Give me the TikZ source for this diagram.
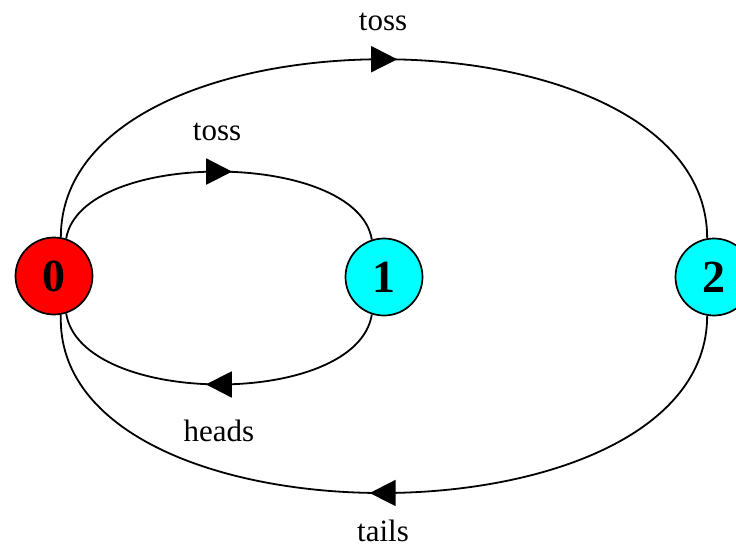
\documentclass[tikz,border=0pt]{standalone}
\usepackage{fontspec}
\setmainfont{Liberation Serif}
\usetikzlibrary{arrows.meta,decorations.markings}
\tikzset{
  state/.style={
    circle,draw=black,line width=1.7pt,inner sep=0pt,
    minimum size=77pt,font=\fontsize{46}{46}\selectfont\bfseries
  },
  state red/.style={state,fill={rgb,255:red,255;green,0;blue,0}},
  state cyan/.style={state,fill={rgb,255:red,0;green,255;blue,255}},
  edge/.style={
    line width=1.8pt,
    decoration={markings,
      mark=at position 0.5 with {\arrow[xshift=13pt]{Triangle[length=26pt,width=26pt]}}},
    postaction={decorate}
  },
  lbl/.style={inner sep=1.5pt,anchor=base,font=\fontsize{31}{31}\selectfont}
}
\begin{document}
\begin{tikzpicture}[x=1pt,y=1pt,yscale=-1,xscale=1]
\useasboundingbox (0,0) rectangle (736,549);

%Shape: States
\node[state red]  (n0) at (54,276)  {0};
\node[state cyan] (n1) at (384,277) {1};
\node[state cyan] (n2) at (714,277) {2};

%Curve Lines: inner loop
\draw[edge] (n0.72) .. controls +(15,-90) and +(-15,-90) .. (n1.108);
%Curve Lines: outer loop
\draw[edge] (n0.80) .. controls +(0,-238) and +(0,-238) .. (n2.100);
\draw[edge] (n2.260) .. controls +(0,237) and +(-8,237) .. (n0.280);
% Text Node
\node[lbl] (tossOut) at (383,30) {toss};
\node[lbl] (tossIn) at (217,140) {toss};
\node[lbl] (tailsOut) at (383,541) {tails};

\draw[edge] (n1.252) .. controls +(-15,94) and +(15,94) .. (n0.288);
% Text Node
\node[lbl,fill=white] (headsIn) at (219,441) {heads};

\end{tikzpicture}
\end{document}
